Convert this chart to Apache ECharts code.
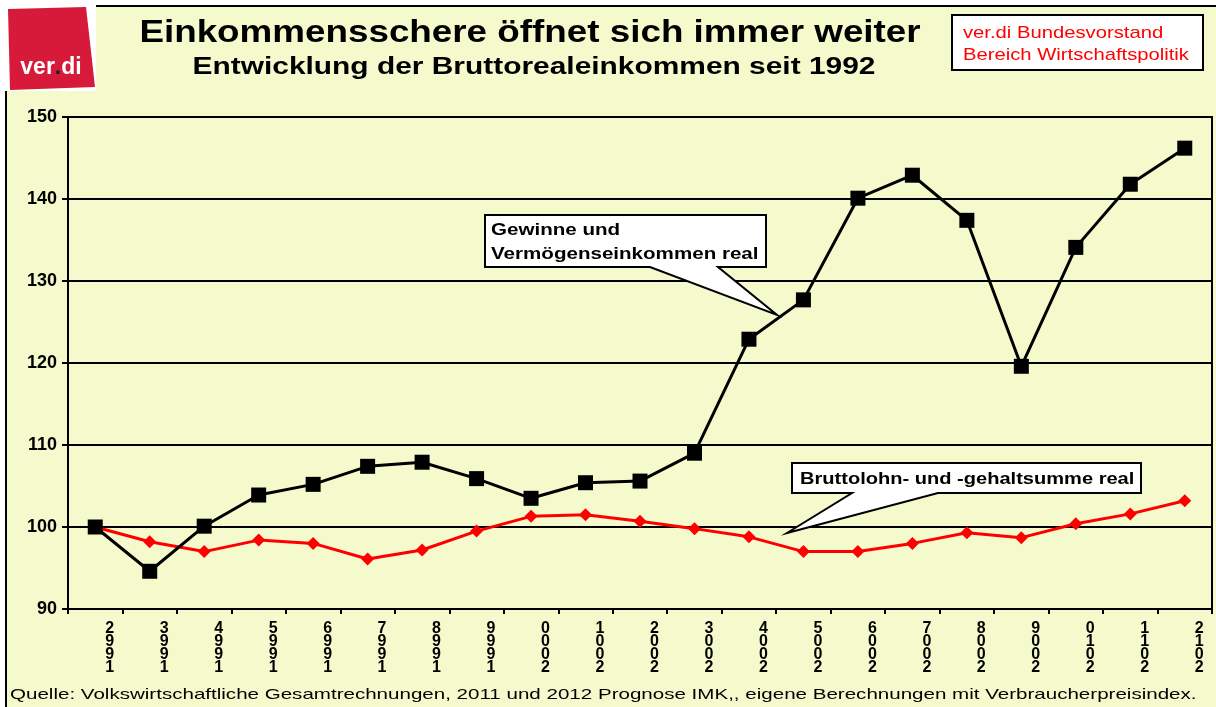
<!DOCTYPE html>
<html>
<head>
<meta charset="utf-8">
<script src="https://cdn.jsdelivr.net/npm/echarts@6/dist/echarts.min.js"></script>
<style>
html,body{margin:0;padding:0;background:#ffffff;}
#chart{width:1216px;height:707px;}
</style>
</head>
<body>
<div id="chart"></div>
<script>
const years = ['1992','1993','1994','1995','1996','1997','1998','1999','2000','2001','2002','2003','2004','2005','2006','2007','2008','2009','2010','2011','2012'];
const gewinne = [100, 94.6, 100.1, 103.9, 105.2, 107.4, 107.9, 105.9, 103.5, 105.4, 105.6, 109.0, 122.9, 127.7, 140.1, 142.9, 137.4, 119.6, 134.1, 141.8, 146.2];
const lohn = [100, 98.2, 97.0, 98.4, 98.0, 96.1, 97.2, 99.5, 101.3, 101.5, 100.7, 99.8, 98.8, 97.0, 97.0, 98.0, 99.3, 98.7, 100.4, 101.6, 103.2];
const yTicks = [90, 100, 110, 120, 130, 140, 150];

const titleText = 'Einkommensschere öffnet sich immer weiter';
const subtitleText = 'Entwicklung der Bruttorealeinkommen seit 1992';
const boxLines = ['ver.di Bundesvorstand', 'Bereich Wirtschaftspolitik'];
const callout1 = ['Gewinne und', 'Vermögenseinkommen real'];
const callout2 = 'Bruttolohn- und -gehaltsumme real';
const sourceText = 'Quelle: Volkswirtschaftliche Gesamtrechnungen, 2011 und 2012 Prognose IMK,, eigene Berechnungen mit Verbraucherpreisindex.';

const BG = '#F5FACD';
const FONT = '"Liberation Sans", Arial, sans-serif';

const chart = echarts.init(document.getElementById('chart'), null, {renderer: 'canvas'});

function txt(x, y, text, font, fill, sx, align, z) {
  return {type: 'text', x: x, y: y, scaleX: sx, z: z || 5,
    style: {x: 0, y: 0, text: text, font: font, fill: fill, align: align || 'left', verticalAlign: 'middle'}};
}

const option = {
  backgroundColor: '#ffffff',
  animation: false,
  grid: {left: 68, right: 4, top: 117, bottom: 98, show: true, borderColor: '#000', borderWidth: 2, backgroundColor: 'transparent'},
  xAxis: {
    type: 'category',
    data: years,
    boundaryGap: true,
    axisLine: {lineStyle: {color: '#000', width: 2}},
    axisTick: {show: true, inside: false, length: 5, lineStyle: {color: '#000', width: 2}},
    axisLabel: {
      interval: 0,
      color: '#000',
      fontFamily: FONT,
      fontWeight: 'bold',
      fontSize: 16,
      lineHeight: 13,
      margin: 13,
      align: 'left',
      padding: [0, 0, 0, 10],
      formatter: v => v.split('').reverse().join('\n')
    },
    splitLine: {show: false}
  },
  yAxis: {
    type: 'value',
    min: yTicks[0],
    max: yTicks[yTicks.length - 1],
    interval: 10,
    axisLine: {show: true, lineStyle: {color: '#000', width: 2}},
    axisTick: {show: true, inside: false, length: 6, lineStyle: {color: '#000', width: 2}},
    axisLabel: {color: '#000', fontFamily: FONT, fontWeight: 'bold', fontSize: 18, margin: 11},
    splitLine: {show: true, lineStyle: {color: '#000', width: 2}}
  },
  series: [
    {
      name: 'Bruttolohn- und -gehaltsumme real',
      type: 'line',
      data: lohn,
      symbol: 'diamond',
      symbolSize: 13,
      z: 3,
      lineStyle: {color: '#FF0000', width: 3},
      itemStyle: {color: '#FF0000'}
    },
    {
      name: 'Gewinne und Vermögenseinkommen real',
      type: 'line',
      data: gewinne,
      symbol: 'rect',
      symbolSize: 15,
      z: 4,
      lineStyle: {color: '#000', width: 3},
      itemStyle: {color: '#000'}
    }
  ],
  graphic: [
    // page background and frame
    {type: 'rect', z: -10, silent: true, shape: {x: 6, y: 6, width: 1212, height: 705}, style: {fill: BG, stroke: '#000', lineWidth: 2}},
    // logo
    {type: 'rect', z: -5, shape: {x: 5, y: 5, width: 91, height: 86}, style: {fill: '#ffffff'}},
    {type: 'polygon', z: -4, shape: {points: [[8, 9], [86, 7], [95, 87], [10, 90]]}, style: {fill: '#D71A3A'}},
    {type: 'text', z: -3, style: {x: 51, y: 68, text: '{w|ver}{k|.}{w|di}', align: 'center', verticalAlign: 'middle',
      rich: {w: {fill: '#fff', fontFamily: FONT, fontWeight: 'bold', fontSize: 23}, k: {fill: '#222', fontFamily: FONT, fontWeight: 'bold', fontSize: 23}}}},
    // titles
    txt(530, 33, titleText, 'bold 32px ' + FONT, '#000', 1.15, 'center'),
    txt(534, 68, subtitleText, 'bold 23px ' + FONT, '#000', 1.3, 'center'),
    // top-right box
    {type: 'rect', shape: {x: 952, y: 15, width: 251, height: 55}, style: {fill: '#fff', stroke: '#000', lineWidth: 2}},
    txt(963, 33, boxLines[0], '17px ' + FONT, '#FF0000', 1.19),
    txt(963, 55, boxLines[1], '17px ' + FONT, '#FF0000', 1.19),
    // callout 1
    {type: 'polygon', z: 10, shape: {points: [[485, 215], [766, 215], [766, 267], [718, 267], [777, 315], [650, 267], [485, 267]]}, style: {fill: '#fff', stroke: '#000', lineWidth: 2}},
    txt(491, 230, callout1[0], 'bold 17px ' + FONT, '#000', 1.21, 'left', 11),
    txt(491, 254, callout1[1], 'bold 17px ' + FONT, '#000', 1.21, 'left', 11),
    // callout 2
    {type: 'polygon', z: 10, shape: {points: [[792, 463], [1141, 463], [1141, 493], [938, 493], [787, 533], [852, 493], [792, 493]]}, style: {fill: '#fff', stroke: '#000', lineWidth: 2}},
    txt(800, 479, callout2, 'bold 17px ' + FONT, '#000', 1.18, 'left', 11),
    // source
    txt(10, 695, sourceText, '15px ' + FONT, '#000', 1.37)
  ]
};
chart.setOption(option);
</script>
</body>
</html>
